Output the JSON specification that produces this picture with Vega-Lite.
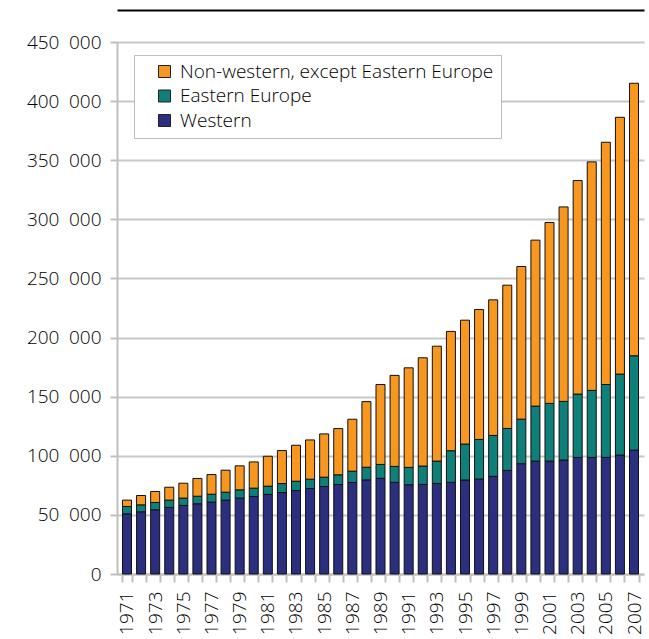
{
  "$schema": "https://vega.github.io/schema/vega-lite/v6.json",
  "autosize": {"type": "none"},
  "width": 527,
  "height": 532,
  "padding": {"left": 117, "top": 42, "right": 5, "bottom": 65},
  "background": "white",
  "config": {
    "font": "Open Sans",
    "view": {"stroke": null},
    "axis": {"labelFont": "Open Sans", "labelColor": "#000000", "labelFontWeight": 300}
  },
  "data": {"values": [
    {"year":1971,"group":"Western","value":50900},{"year":1971,"group":"Eastern Europe","value":6200},{"year":1971,"group":"Non-western, except Eastern Europe","value":5400},
    {"year":1972,"group":"Western","value":52600},{"year":1972,"group":"Eastern Europe","value":5900},{"year":1972,"group":"Non-western, except Eastern Europe","value":7900},
    {"year":1973,"group":"Western","value":54300},{"year":1973,"group":"Eastern Europe","value":6200},{"year":1973,"group":"Non-western, except Eastern Europe","value":9300},
    {"year":1974,"group":"Western","value":56300},{"year":1974,"group":"Eastern Europe","value":6200},{"year":1974,"group":"Non-western, except Eastern Europe","value":10900},
    {"year":1975,"group":"Western","value":58000},{"year":1975,"group":"Eastern Europe","value":6200},{"year":1975,"group":"Non-western, except Eastern Europe","value":12600},
    {"year":1976,"group":"Western","value":59400},{"year":1976,"group":"Eastern Europe","value":6400},{"year":1976,"group":"Non-western, except Eastern Europe","value":15000},
    {"year":1977,"group":"Western","value":60800},{"year":1977,"group":"Eastern Europe","value":6700},{"year":1977,"group":"Non-western, except Eastern Europe","value":16600},
    {"year":1978,"group":"Western","value":62500},{"year":1978,"group":"Eastern Europe","value":6700},{"year":1978,"group":"Non-western, except Eastern Europe","value":18600},
    {"year":1979,"group":"Western","value":64200},{"year":1979,"group":"Eastern Europe","value":7000},{"year":1979,"group":"Non-western, except Eastern Europe","value":20300},
    {"year":1980,"group":"Western","value":65600},{"year":1980,"group":"Eastern Europe","value":7000},{"year":1980,"group":"Non-western, except Eastern Europe","value":22200},
    {"year":1981,"group":"Western","value":67300},{"year":1981,"group":"Eastern Europe","value":7000},{"year":1981,"group":"Non-western, except Eastern Europe","value":25300},
    {"year":1982,"group":"Western","value":68900},{"year":1982,"group":"Eastern Europe","value":7600},{"year":1982,"group":"Non-western, except Eastern Europe","value":27900},
    {"year":1983,"group":"Western","value":70600},{"year":1983,"group":"Eastern Europe","value":7900},{"year":1983,"group":"Non-western, except Eastern Europe","value":30400},
    {"year":1984,"group":"Western","value":72300},{"year":1984,"group":"Eastern Europe","value":7900},{"year":1984,"group":"Non-western, except Eastern Europe","value":33200},
    {"year":1985,"group":"Western","value":74000},{"year":1985,"group":"Eastern Europe","value":7900},{"year":1985,"group":"Non-western, except Eastern Europe","value":36600},
    {"year":1986,"group":"Western","value":75700},{"year":1986,"group":"Eastern Europe","value":8200},{"year":1986,"group":"Non-western, except Eastern Europe","value":39100},
    {"year":1987,"group":"Western","value":77400},{"year":1987,"group":"Eastern Europe","value":9600},{"year":1987,"group":"Non-western, except Eastern Europe","value":43900},
    {"year":1988,"group":"Western","value":79600},{"year":1988,"group":"Eastern Europe","value":10700},{"year":1988,"group":"Non-western, except Eastern Europe","value":55500},
    {"year":1989,"group":"Western","value":80900},{"year":1989,"group":"Eastern Europe","value":11800},{"year":1989,"group":"Non-western, except Eastern Europe","value":67600},
    {"year":1990,"group":"Western","value":77500},{"year":1990,"group":"Eastern Europe","value":13500},{"year":1990,"group":"Non-western, except Eastern Europe","value":77000},
    {"year":1991,"group":"Western","value":75500},{"year":1991,"group":"Eastern Europe","value":14700},{"year":1991,"group":"Non-western, except Eastern Europe","value":84200},
    {"year":1992,"group":"Western","value":75800},{"year":1992,"group":"Eastern Europe","value":15500},{"year":1992,"group":"Non-western, except Eastern Europe","value":91600},
    {"year":1993,"group":"Western","value":76600},{"year":1993,"group":"Eastern Europe","value":18900},{"year":1993,"group":"Non-western, except Eastern Europe","value":97200},
    {"year":1994,"group":"Western","value":77500},{"year":1994,"group":"Eastern Europe","value":26800},{"year":1994,"group":"Non-western, except Eastern Europe","value":100900},
    {"year":1995,"group":"Western","value":79500},{"year":1995,"group":"Eastern Europe","value":30400},{"year":1995,"group":"Non-western, except Eastern Europe","value":104800},
    {"year":1996,"group":"Western","value":80300},{"year":1996,"group":"Eastern Europe","value":33500},{"year":1996,"group":"Non-western, except Eastern Europe","value":109900},
    {"year":1997,"group":"Western","value":82600},{"year":1997,"group":"Eastern Europe","value":34600},{"year":1997,"group":"Non-western, except Eastern Europe","value":114700},
    {"year":1998,"group":"Western","value":87600},{"year":1998,"group":"Eastern Europe","value":35500},{"year":1998,"group":"Non-western, except Eastern Europe","value":121200},
    {"year":1999,"group":"Western","value":93300},{"year":1999,"group":"Eastern Europe","value":37700},{"year":1999,"group":"Non-western, except Eastern Europe","value":129100},
    {"year":2000,"group":"Western","value":95500},{"year":2000,"group":"Eastern Europe","value":46500},{"year":2000,"group":"Non-western, except Eastern Europe","value":140400},
    {"year":2001,"group":"Western","value":95500},{"year":2001,"group":"Eastern Europe","value":48800},{"year":2001,"group":"Non-western, except Eastern Europe","value":153000},
    {"year":2002,"group":"Western","value":96400},{"year":2002,"group":"Eastern Europe","value":49600},{"year":2002,"group":"Non-western, except Eastern Europe","value":164500},
    {"year":2003,"group":"Western","value":98600},{"year":2003,"group":"Eastern Europe","value":53600},{"year":2003,"group":"Non-western, except Eastern Europe","value":180600},
    {"year":2004,"group":"Western","value":98600},{"year":2004,"group":"Eastern Europe","value":56700},{"year":2004,"group":"Non-western, except Eastern Europe","value":193300},
    {"year":2005,"group":"Western","value":98600},{"year":2005,"group":"Eastern Europe","value":61700},{"year":2005,"group":"Non-western, except Eastern Europe","value":204900},
    {"year":2006,"group":"Western","value":100600},{"year":2006,"group":"Eastern Europe","value":68500},{"year":2006,"group":"Non-western, except Eastern Europe","value":217200},
    {"year":2007,"group":"Western","value":104800},{"year":2007,"group":"Eastern Europe","value":79800},{"year":2007,"group":"Non-western, except Eastern Europe","value":230500}
  ]},
  "transform": [
    {"calculate": "indexof(['Western', 'Eastern Europe', 'Non-western, except Eastern Europe'], datum.group)", "as": "stackOrder"}
  ],
  "layer": [
    {
      "mark": {"type": "bar", "stroke": "#111111", "strokeWidth": 1},
      "encoding": {
        "x": {
          "field": "year", "type": "ordinal",
          "scale": {"paddingInner": 0.36, "paddingOuter": 0.39},
          "axis": {
            "title": null,
            "labelAngle": -90, "labelAlign": "right", "labelBaseline": "middle",
            "labelFontSize": 19, "labelPadding": 9,
            "labelExpr": "datum.value % 2 == 1 ? datum.label : ''",
            "tickBand": "extent", "tickSize": 8, "tickColor": "#c0c0c0", "tickWidth": 2,
            "domainColor": "#c0c0c0", "domainWidth": 2,
            "labelOverlap": false
          }
        },
        "y": {
          "field": "value", "type": "quantitative", "stack": "zero",
          "scale": {"domain": [0, 450000]},
          "axis": {
            "title": null, "values": [0,50000,100000,150000,200000,250000,300000,350000,400000,450000],
            "labelExpr": "replace(format(datum.value, ','), ',', '\u2002')",
            "labelFontSize": 19, "labelPadding": 9,
            "tickSize": 7, "tickColor": "#c0c0c0", "tickWidth": 2,
            "domainColor": "#c0c0c0", "domainWidth": 2,
            "gridColor": "#c8c8c8", "gridWidth": 2
          }
        },
        "order": {"field": "stackOrder", "type": "quantitative", "sort": "ascending"},
        "color": {
          "field": "group", "type": "nominal",
          "scale": {
            "domain": ["Non-western, except Eastern Europe", "Eastern Europe", "Western"],
            "range": ["#f7971f", "#0e7f79", "#2c2f7f"]
          },
          "legend": {
            "title": null,
            "orient": "none", "legendX": 17, "legendY": 13,
            "fillColor": "white", "strokeColor": "#bdbdbd",
            "padding": 7, "symbolOffset": 14,
            "symbolType": "square", "symbolSize": 144,
            "symbolStrokeColor": "#222222", "symbolStrokeWidth": 1,
            "labelFontSize": 19, "labelFontWeight": 300, "labelColor": "#000000", "labelFont": "Open Sans",
            "labelOffset": 6, "rowPadding": 4.5, "labelLimit": 500
          }
        }
      }
    },
    {
      "mark": {"type": "rule", "opacity": 0},
      "encoding": {
        "x": {
          "field": "year", "type": "ordinal",
          "axis": {
            "orient": "top", "offset": 32, "title": null,
            "labels": false, "ticks": false, "grid": false,
            "domainColor": "#000000", "domainWidth": 2
          }
        }
      }
    }
  ],
  "resolve": {"axis": {"x": "independent"}}
}
